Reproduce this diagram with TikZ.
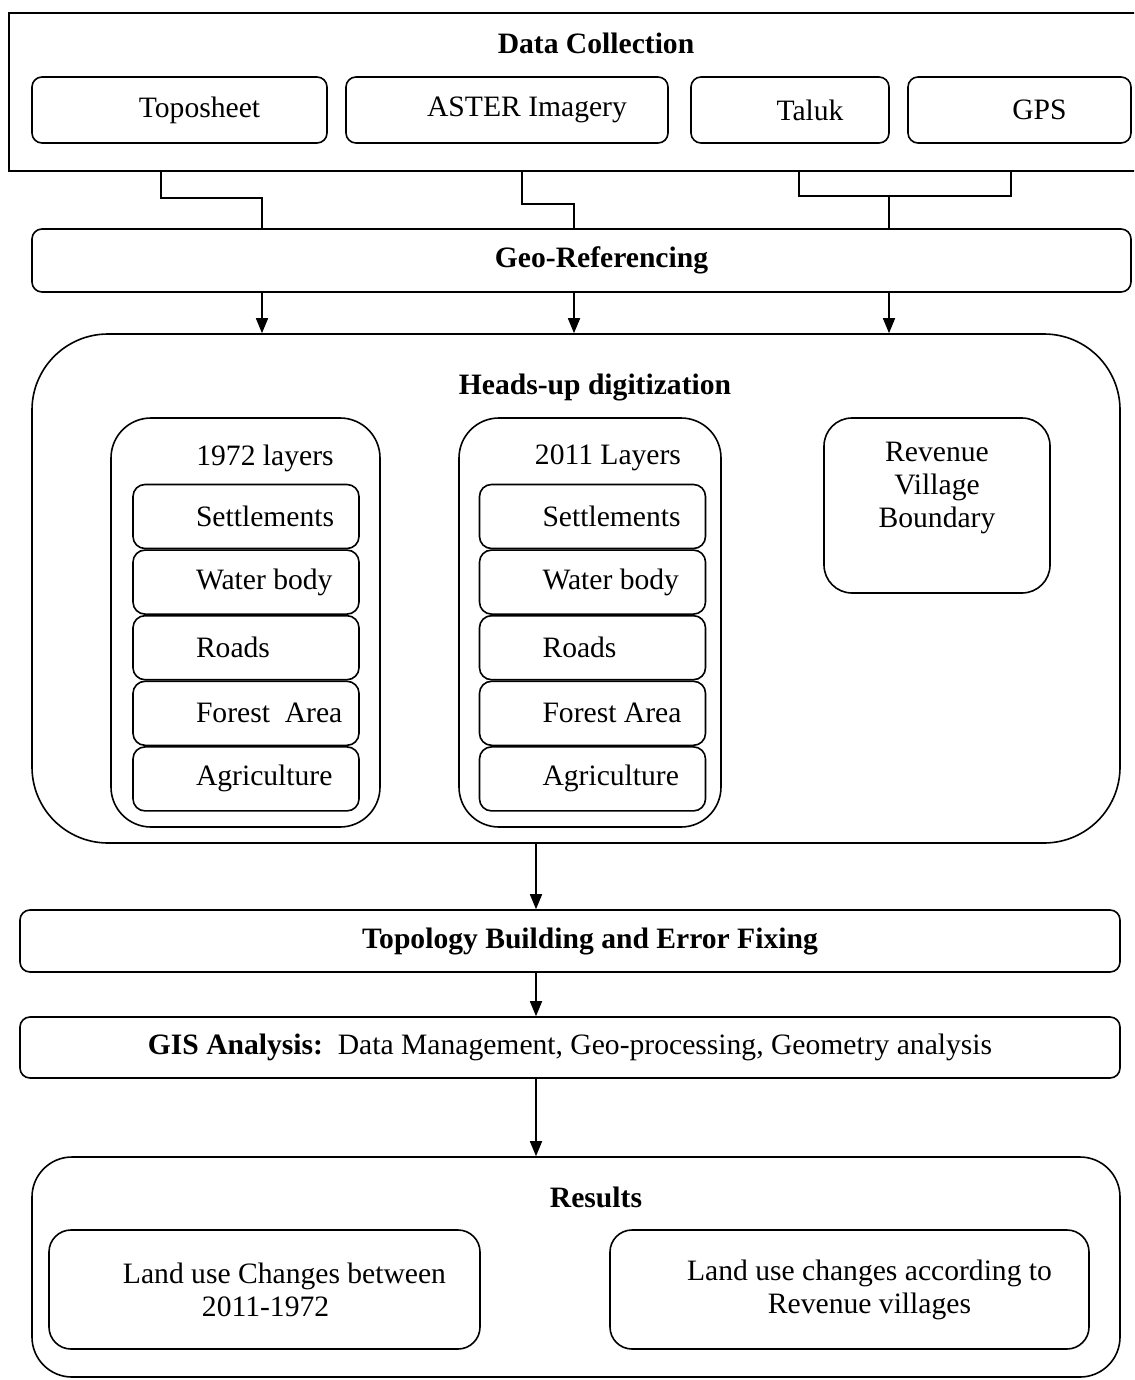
\documentclass[tikz,border=0pt]{standalone}
\usepackage{fontspec}
\setmainfont{Liberation Serif}
\usetikzlibrary{positioning, arrows.meta}

\begin{document}
\begin{tikzpicture}[x=0.5pt, y=-0.5pt, node distance=0pt, line width=0.8pt,
    font=\fontsize{14.8}{16.5}\selectfont,
    box/.style={draw, rounded corners=5pt, inner sep=0pt},
    shiftr/.style={execute at begin node={\hspace*{20pt}}},
    group/.style={draw, rounded corners=#1}, group/.default=20pt,
    layer/.style={draw, rounded corners=6pt, minimum width=113pt, minimum height=32pt,
        execute at begin node={\hbox to 50pt\bgroup}, execute at end node={\hss\egroup}},
    ttl/.style={font=\fontsize{14.8}{16.5}\selectfont\bfseries},
    arrow/.style={-{Triangle[width=6pt,length=7.5pt]}}]
        \useasboundingbox (0,0) rectangle (1134,1380);
        \clip (0,0) rectangle (1134,1380);

        % Nodes
        \node[draw, minimum width=570.5pt, minimum height=79pt] (collect) at (579.5,92) {};
        \node[ttl] (dctitle) at (596,43) {Data Collection};
        \node[box, shiftr, minimum width=147.5pt, minimum height=33pt] (topo) at (179.5,110) {Toposheet};
        \node[box, shiftr, minimum width=161pt, minimum height=33pt] (aster) at (507,110) {ASTER Imagery};
        \node[box, shiftr, minimum width=99pt, minimum height=33pt] (taluk) at (790,110) {Taluk};
        \node[box, shiftr, minimum width=111.5pt, minimum height=33pt] (gps) at (1019.5,110) {GPS};

        \node[box, shiftr, ttl, minimum width=549.5pt, minimum height=31.5pt] (georef) at (581.5,260.5) {Geo-Referencing};

        \node[group=38pt, minimum width=544pt, minimum height=254.5pt] (heads) at (576,588.5) {};
        \node[ttl] (hutitle) at (595,387) {Heads-up digitization};

        \node[group, minimum width=134.5pt, minimum height=204.5pt] (g72) at (245.5,622.5) {};
        \node (t72) at (265,458) {1972 layers};
        \node[layer] (s72) at (246,516.5) {Settlements};
        \node[layer, below=of s72] (w72) {Water body};
        \node[layer, below=of w72] (r72) {Roads};
        \node[layer, below=of r72] (f72) {Forest~~Area};
        \node[layer, below=of f72] (a72) {Agriculture};

        \node[group, minimum width=131pt, minimum height=204.5pt] (g11) at (590,622.5) {};
        \node (t11) at (608,458) {2011 Layers};
        \node[layer] (s11) at (592.5,516.5) {Settlements};
        \node[layer, below=of s11] (w11) {Water body};
        \node[layer, below=of w11] (r11) {Roads};
        \node[layer, below=of r11] (f11) {Forest Area};
        \node[layer, below=of f11] (a11) {Agriculture};

        \node[group=14pt, minimum width=113pt, minimum height=87.5pt] (rev) at (937,505.5) {};
        \node[align=center] (revtxt) at (937,488) {Revenue\\Village\\Boundary};

        \node[box, shiftr, ttl, minimum width=550pt, minimum height=31pt] (topbld) at (570,941) {Topology Building and Error Fixing};
        \node[box, minimum width=550pt, minimum height=30.5pt] (gis) at (570,1047.5) {\textbf{GIS Analysis:}~~Data Management, Geo-processing, Geometry analysis};

        \node[group, minimum width=544pt, minimum height=110pt] (res) at (576,1267) {};
        \node[ttl] (restitle) at (596,1197) {Results};
        \node[group=11pt, shiftr, align=left, minimum width=215.5pt, minimum height=59.5pt] (res1) at (264.5,1289.5) {Land use Changes between\\\hspace*{39.5pt}2011-1972};
        \node[group=11pt, shiftr, align=center, minimum width=239.5pt, minimum height=59.5pt] (res2) at (849.5,1289.5) {Land use changes according to\\Revenue villages};

        \coordinate (c1) at (161,0);
        \coordinate (c2) at (522,0);
        \coordinate (c3) at (799,0);
        \coordinate (c4) at (1011,0);
        \coordinate (b1) at (262,198);
        \coordinate (b2) at (574,204);
        \coordinate (b3) at (889,196);
        \coordinate (m) at (536,0);

        % Arrows
        \draw (collect.south -| c1) |- (b1) -- (georef.north -| b1);
        \draw (collect.south -| c2) |- (b2) -- (georef.north -| b2);
        \draw (collect.south -| c3) |- (b3) -| (collect.south -| c4);
        \draw (b3) -- (georef.north -| b3);
        \draw[arrow] (georef.south -| b1) -- (heads.north -| b1);
        \draw[arrow] (georef.south -| b2) -- (heads.north -| b2);
        \draw[arrow] (georef.south -| b3) -- (heads.north -| b3);
        \draw[arrow] (heads.south -| m) -- (topbld.north -| m);
        \draw[arrow] (topbld.south -| m) -- (gis.north -| m);
        \draw[arrow] (gis.south -| m) -- (res.north -| m);
    \end{tikzpicture}
\end{document}
